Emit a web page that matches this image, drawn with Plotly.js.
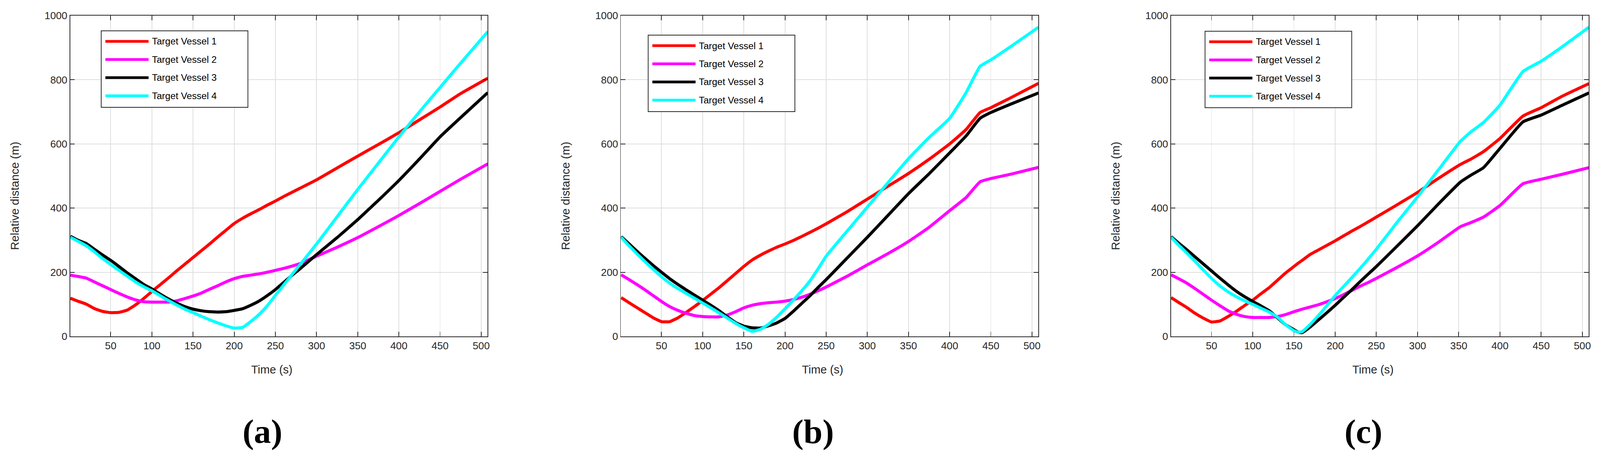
<!DOCTYPE html>
<html>
<head>
<meta charset="utf-8">
<script src="https://cdn.plot.ly/plotly-3.0.1.min.js"></script>
<style>
  html, body { margin: 0; padding: 0; background: #fff; overflow: hidden; }
  #chart { width: 100vw; height: 100vh; }
</style>
</head>
<body>
<div id="chart"></div>
<script>
// ── Data ───────────────────────────────────────────────────────────────────

const SERIES_NAMES  = ['Target Vessel 1', 'Target Vessel 2', 'Target Vessel 3', 'Target Vessel 4'];
const SERIES_COLORS = ['#ff0000', '#ff00ff', '#000000', '#00ffff'];
const PANEL_LABELS  = ['(a)', '(b)', '(c)'];
const X_TITLE = 'Time (s)';
const Y_TITLE = 'Relative distance (m)';
const X_TICKS = [50, 100, 150, 200, 250, 300, 350, 400, 450, 500];
const Y_TICKS = [0, 200, 400, 600, 800, 1000];

// panel (a)
const timeA    = [1, 10, 20, 30, 40, 50, 60, 70, 80, 90, 100, 110, 120, 130, 140, 150, 160, 170, 180, 190, 200, 210, 220, 230, 240, 250, 260, 270, 280, 300, 325, 350, 375, 400, 425, 450, 475, 508];
const vessel1A = [119, 110, 101, 87, 78, 74, 75, 82, 98, 118, 140, 161, 182, 204, 225, 246, 267, 288, 310, 331, 352, 368, 382, 395, 409, 422, 436, 449, 462, 488, 525, 562, 598, 635, 675, 715, 757, 805];
const vessel2A = [191, 187, 182, 170, 158, 146, 134, 123, 114, 108, 107, 107, 107, 111, 118, 126, 135, 147, 158, 170, 180, 187, 191, 195, 200, 206, 212, 219, 227, 250, 278, 308, 342, 377, 414, 452, 490, 538];
const vessel3A = [312, 300, 290, 272, 254, 237, 218, 198, 180, 162, 148, 132, 117, 104, 93, 85, 80, 77, 76, 77, 81, 86, 97, 110, 127, 146, 168, 190, 211, 255, 308, 364, 424, 486, 553, 622, 682, 760];
const vessel4A = [309, 297, 283, 264, 243, 224, 206, 188, 170, 155, 142, 127, 112, 98, 85, 74, 63, 52, 42, 33, 26, 28, 46, 68, 95, 128, 160, 192, 224, 288, 373, 458, 540, 622, 700, 776, 852, 950];

// panel (b)
const timeB    = [1, 10, 20, 30, 40, 50, 60, 70, 80, 90, 100, 110, 120, 130, 140, 150, 160, 170, 180, 190, 200, 210, 220, 230, 240, 250, 275, 300, 325, 350, 375, 400, 420, 437, 450, 475, 508];
const vessel1B = [121, 106, 90, 74, 58, 46, 46, 58, 75, 93, 112, 132, 152, 174, 196, 218, 238, 253, 266, 278, 288, 299, 311, 324, 337, 351, 388, 428, 468, 508, 552, 600, 645, 698, 713, 745, 789];
const vessel2B = [192, 178, 162, 145, 127, 109, 93, 81, 72, 65, 62, 61, 61, 67, 77, 89, 97, 102, 105, 107, 110, 115, 122, 131, 142, 154, 187, 223, 258, 296, 340, 392, 433, 482, 492, 506, 527];
const vessel3B = [311, 290, 266, 243, 221, 200, 180, 162, 145, 129, 113, 97, 80, 61, 43, 32, 27, 26, 33, 42, 56, 78, 102, 126, 152, 177, 243, 309, 377, 445, 507, 572, 625, 680, 698, 725, 759];
const vessel4B = [309, 284, 258, 233, 209, 186, 166, 149, 134, 119, 104, 89, 73, 57, 41, 27, 16, 22, 38, 60, 86, 113, 141, 172, 210, 250, 327, 403, 479, 554, 620, 680, 760, 842, 862, 905, 964];

// panel (c)
const timeC    = [1, 10, 20, 30, 40, 50, 60, 70, 80, 90, 100, 110, 120, 130, 140, 150, 155, 160, 170, 180, 190, 200, 210, 220, 230, 240, 250, 275, 300, 325, 352, 365, 380, 400, 428, 450, 475, 508];
const vessel1C = [121, 106, 90, 72, 57, 45, 48, 62, 78, 96, 113, 133, 152, 175, 198, 218, 228, 237, 256, 270, 284, 298, 313, 328, 342, 357, 372, 410, 449, 492, 536, 553, 576, 617, 687, 713, 748, 788];
const vessel2C = [192, 180, 166, 149, 131, 113, 96, 80, 69, 62, 59, 59, 59, 62, 68, 77, 81, 85, 92, 99, 108, 118, 130, 143, 156, 168, 181, 215, 251, 293, 342, 355, 372, 408, 476, 490, 505, 526];
const vessel3C = [311, 291, 270, 248, 226, 204, 182, 161, 141, 124, 109, 95, 80, 58, 36, 21, 13, 12, 30, 52, 74, 97, 121, 145, 170, 194, 218, 281, 345, 412, 481, 503, 526, 586, 669, 690, 720, 759];
const vessel4C = [309, 285, 260, 234, 207, 181, 158, 139, 124, 111, 100, 88, 76, 60, 36, 18, 13, 15, 38, 66, 96, 127, 155, 183, 211, 241, 272, 355, 435, 518, 608, 638, 667, 721, 826, 858, 902, 964];

const PANEL_TIMES  = [timeA, timeB, timeC];
const PANEL_VALUES = [
  [vessel1A, vessel2A, vessel3A, vessel4A],
  [vessel1B, vessel2B, vessel3B, vessel4B],
  [vessel1C, vessel2C, vessel3C, vessel4C],
];

// ── Geometry, in pixels of the 4221 x 1171 reference ───────────────────────
// The page is scaled to whatever viewport it is opened in.

const REF_W = 4221, REF_H = 1171;
const PLOT_TOP = 40, PLOT_BOTTOM = 862;
const PANELS = [
  { left: 185,  right: 1286, legLeft: 267,  legTop: 79 },
  { left: 1638, right: 2739, legLeft: 1710, legTop: 90 },
  { left: 3089, right: 4191, legLeft: 3179, legTop: 80 },
];
const LEG_W = 387, LEG_H = 196;

const vw = window.innerWidth  || REF_W;
const vh = window.innerHeight || REF_H;
const k  = Math.min(vw / REF_W, vh / REF_H);   // px scale
const s  = v => v * k;

const INK = '#262626';
const FONT = 'Liberation Sans, Arial, Helvetica, sans-serif';

const px = x => x / REF_W;
const py = y => 1 - y / REF_H;

function xAxis(p, i) {
  return {
    domain: [px(p.left), px(p.right)],
    anchor: i ? 'y' + (i + 1) : 'y',
    range: [0.7, 507.6],
    tickvals: X_TICKS,
    ticks: 'inside', ticklen: s(12), tickwidth: s(2), tickcolor: INK,
    showline: true, linecolor: INK, linewidth: s(2), mirror: 'ticks',
    showgrid: true, gridcolor: '#dedede', gridwidth: s(2),
    zeroline: false,
    tickfont: { family: FONT, size: s(27), color: INK },
    ticklabelstandoff: s(8),
    ticklabelshift: -s(8),
    fixedrange: true,
  };
}

function yAxis(p, i) {
  return {
    domain: [py(PLOT_BOTTOM), py(PLOT_TOP)],
    anchor: i ? 'x' + (i + 1) : 'x',
    range: [0, 1000],
    tickvals: Y_TICKS,
    ticks: 'inside', ticklen: s(12), tickwidth: s(2), tickcolor: INK,
    showline: true, linecolor: INK, linewidth: s(2), mirror: 'ticks',
    showgrid: true, gridcolor: '#dedede', gridwidth: s(2),
    zeroline: false,
    tickfont: { family: FONT, size: s(27), color: INK },
    ticklabelstandoff: s(30),
    ticklabelshift: s(7),
    fixedrange: true,
  };
}

// ── Traces ─────────────────────────────────────────────────────────────────

const traces = [];
PANEL_VALUES.forEach((series, pi) => {
  series.forEach((vals, si) => {
    traces.push({
      type: 'scatter',
      mode: 'lines',
      name: SERIES_NAMES[si],
      x: PANEL_TIMES[pi],
      y: vals,
      xaxis: pi ? 'x' + (pi + 1) : 'x',
      yaxis: pi ? 'y' + (pi + 1) : 'y',
      line: { color: SERIES_COLORS[si], width: s(8), shape: 'spline', smoothing: 0.4 },
      showlegend: false,
      hoverinfo: 'skip',
    });
  });
});

// ── Legend boxes (shapes + text, MATLAB style), axis titles, captions ──────

const shapes = [];
const annotations = [];

PANELS.forEach((p, pi) => {
  const mid = (p.left + p.right) / 2;

  shapes.push({
    type: 'rect', xref: 'paper', yref: 'paper',
    x0: px(p.legLeft), x1: px(p.legLeft + LEG_W),
    y0: py(p.legTop + LEG_H), y1: py(p.legTop),
    line: { color: INK, width: s(2) }, fillcolor: '#ffffff', layer: 'above',
  });
  SERIES_NAMES.forEach((name, si) => {
    const rowY = p.legTop + 27 + si * 46.5;
    shapes.push({
      type: 'line', xref: 'paper', yref: 'paper',
      x0: px(p.legLeft + 11), x1: px(p.legLeft + 125),
      y0: py(rowY), y1: py(rowY),
      line: { color: SERIES_COLORS[si], width: s(7) }, layer: 'above',
    });
    annotations.push({
      text: name, xref: 'paper', yref: 'paper',
      x: px(p.legLeft + 132), y: py(rowY),
      xanchor: 'left', yanchor: 'middle', showarrow: false,
      font: { family: FONT, size: s(25), color: '#000000' },
    });
  });

  // axis titles
  annotations.push({
    text: X_TITLE, xref: 'paper', yref: 'paper',
    x: px(mid - 18), y: py(947),
    xanchor: 'center', yanchor: 'middle', showarrow: false,
    font: { family: FONT, size: s(30), color: INK },
  });
  annotations.push({
    text: Y_TITLE, xref: 'paper', yref: 'paper',
    x: px(p.left - 147), y: py(502), textangle: -90,
    xanchor: 'center', yanchor: 'middle', showarrow: false,
    font: { family: FONT, size: s(30.5), color: INK },
  });

  // panel caption
  annotations.push({
    text: '<b>' + PANEL_LABELS[pi] + '</b>', xref: 'paper', yref: 'paper',
    x: px(mid - 43), y: py(1105),
    xanchor: 'center', yanchor: 'middle', showarrow: false,
    font: { family: 'Liberation Serif, Times New Roman, serif', size: s(90), color: '#000000' },
  });
});

const layout = {
  width: vw, height: vh,
  margin: { l: 0, r: 0, t: 0, b: 0 },
  paper_bgcolor: '#ffffff',
  plot_bgcolor: '#ffffff',
  showlegend: false,
  shapes: shapes,
  annotations: annotations,
};
PANELS.forEach((p, i) => {
  layout[i ? 'xaxis' + (i + 1) : 'xaxis'] = xAxis(p, i);
  layout[i ? 'yaxis' + (i + 1) : 'yaxis'] = yAxis(p, i);
});

Plotly.newPlot('chart', traces, layout, { displayModeBar: false, staticPlot: true });
</script>
</body>
</html>
